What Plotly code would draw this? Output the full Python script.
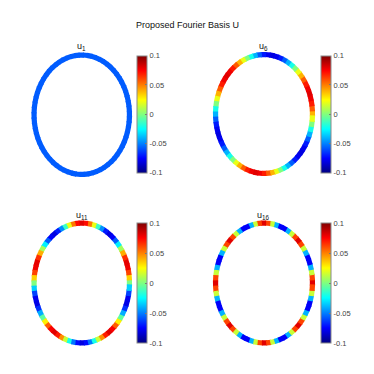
import numpy as np
import plotly.graph_objects as go

# ---- data: vertex values of each basis vector, 72 vertices around the ring
# vertex k sits at angle 5*k degrees (counter-clockwise from the right)
u1 = [-0.057] * 72

u6 = [0.040, 0.057, 0.070, 0.078, 0.081, 0.078, 0.070, 0.057, 0.040, 0.021, 0.000, -0.021,
      -0.040, -0.057, -0.070, -0.078, -0.081, -0.078, -0.070, -0.057, -0.040, -0.021, 0.000, 0.021,
      0.040, 0.057, 0.070, 0.078, 0.081, 0.078, 0.070, 0.057, 0.040, 0.021, 0.000, -0.021,
      -0.040, -0.057, -0.070, -0.078, -0.081, -0.078, -0.070, -0.057, -0.040, -0.021, 0.000, 0.021,
      0.040, 0.057, 0.070, 0.078, 0.081, 0.078, 0.070, 0.057, 0.040, 0.021, 0.000, -0.021,
      -0.040, -0.057, -0.070, -0.078, -0.081, -0.078, -0.070, -0.057, -0.040, -0.021, 0.000, 0.021]

u11 = [0.000, 0.034, 0.062, 0.078, 0.080, 0.066, 0.041, 0.007, -0.028, -0.057, -0.076, -0.081,
       -0.070, -0.047, -0.014, 0.021, 0.052, 0.073, 0.081, 0.073, 0.052, 0.021, -0.014, -0.047,
       -0.070, -0.081, -0.076, -0.057, -0.028, 0.007, 0.041, 0.066, 0.080, 0.078, 0.062, 0.034,
       0.000, -0.034, -0.062, -0.078, -0.080, -0.066, -0.041, -0.007, 0.028, 0.057, 0.076, 0.081,
       0.070, 0.047, 0.014, -0.021, -0.052, -0.073, -0.081, -0.073, -0.052, -0.021, 0.014, 0.047,
       0.070, 0.081, 0.076, 0.057, 0.028, -0.007, -0.041, -0.066, -0.080, -0.078, -0.062, -0.034]

u16 = [0.081, 0.062, 0.014, -0.040, -0.076, -0.076, -0.040, 0.014, 0.062,
       0.081, 0.062, 0.014, -0.040, -0.076, -0.076, -0.040, 0.014, 0.062,
       0.081, 0.062, 0.014, -0.040, -0.076, -0.076, -0.040, 0.014, 0.062,
       0.081, 0.062, 0.014, -0.040, -0.076, -0.076, -0.040, 0.014, 0.062,
       0.081, 0.062, 0.014, -0.040, -0.076, -0.076, -0.040, 0.014, 0.062,
       0.081, 0.062, 0.014, -0.040, -0.076, -0.076, -0.040, 0.014, 0.062,
       0.081, 0.062, 0.014, -0.040, -0.076, -0.076, -0.040, 0.014, 0.062,
       0.081, 0.062, 0.014, -0.040, -0.076, -0.076, -0.040, 0.014, 0.062]

series = [u1, u6, u11, u16]
names = ["1", "6", "11", "16"]
cbar_ticks = [-0.1, -0.05, 0, 0.05, 0.1]
cbar_text = ["-0.1", "-0.05", "0", "0.05", "0.1"]
title_text = "Proposed Fourier Basis U"
CMIN, CMAX = -0.1, 0.1

# ---- layout (pixel boxes in a 374x374 page): ring centre-line extents
W = H = 374.0
ring_x = [(34, 129.5), (215.5, 312.5), (34, 129.5), (215.5, 312.5)]
ring_y = [(55, 174.5), (54.5, 173.5), (223, 343), (223, 343)]
cb_x = [137, 320.7, 137, 320.7]
cb_y = [(55.7, 173), (55.7, 173), (223, 342.7), (223, 342.7)]
lab_pos = [(81, 46), (263, 46), (82, 215), (263, 215)]
PAD = 1.15  # axis range half-width (ring radius is 1) so the stroke is not clipped

jet_stops = [0.0, 0.125, 0.375, 0.625, 0.875, 1.0]
jet_rgb = [(0, 0, 128), (0, 0, 255), (0, 255, 255), (255, 255, 0), (255, 0, 0), (128, 0, 0)]
jet = [[s, "rgb(%d,%d,%d)" % c] for s, c in zip(jet_stops, jet_rgb)]


def jet_color(v):
    f = min(max((v - CMIN) / (CMAX - CMIN), 0.0), 1.0)
    r = [np.interp(f, jet_stops, [c[j] for c in jet_rgb]) for j in range(3)]
    return "rgb(%d,%d,%d)" % tuple(int(round(x)) for x in r)


def expand(a, b):
    c, h = (a + b) / 2, (b - a) / 2 * PAD
    return c - h, c + h


fig = go.Figure()
layout = {}
font_family = "Liberation Sans, Arial, sans-serif"
for i, vals in enumerate(series):
    sfx = "" if i == 0 else str(i + 1)
    n = len(vals)
    step = 2 * np.pi / n
    for k, v in enumerate(vals):
        t = np.array([k - 0.5, k - 0.25, k, k + 0.25, k + 0.5, k + 0.75]) * step
        fig.add_trace(go.Scatter(
            x=np.cos(t), y=np.sin(t), mode="lines",
            line=dict(color=jet_color(v), width=5.2),
            xaxis="x" + sfx, yaxis="y" + sfx, hoverinfo="skip",
            showlegend=False))
    # invisible carrier for the colorbar
    fig.add_trace(go.Scatter(
        x=[None], y=[None], mode="markers",
        marker=dict(color=[CMIN], coloraxis="coloraxis" + sfx, size=0.1),
        xaxis="x" + sfx, yaxis="y" + sfx, hoverinfo="skip", showlegend=False))
    x0, x1 = expand(*ring_x[i])
    y0, y1 = expand(*ring_y[i])
    layout["xaxis" + sfx] = dict(domain=[x0 / W, x1 / W], range=[-PAD, PAD], visible=False,
                                 anchor="y" + sfx, fixedrange=True)
    layout["yaxis" + sfx] = dict(domain=[1 - y1 / H, 1 - y0 / H], range=[-PAD, PAD],
                                 visible=False, anchor="x" + sfx, fixedrange=True)
    cy0, cy1 = cb_y[i]
    layout["coloraxis" + sfx] = dict(
        colorscale=jet, cmin=CMIN, cmax=CMAX,
        colorbar=dict(x=cb_x[i] / W, xanchor="left", y=1 - cy0 / H, yanchor="top",
                      len=cy1 - cy0, lenmode="pixels", thickness=9.5, thicknessmode="pixels",
                      xpad=0, ypad=0, outlinewidth=1, outlinecolor="#8a8a8a",
                      tickvals=cbar_ticks, ticktext=cbar_text, ticks="inside", ticklen=2,
                      tickcolor="#777", tickwidth=0.5,
                      tickfont=dict(size=7.5, color="#444", family=font_family)))

annotations = [dict(text=title_text, x=187 / W, y=1 - 25 / H, xref="paper", yref="paper",
                    showarrow=False, xanchor="center", yanchor="middle",
                    font=dict(size=9, color="#111", family=font_family))]
for i, nm in enumerate(names):
    lx, ly = lab_pos[i]
    annotations.append(dict(text="u<sub>" + nm + "</sub>", x=lx / W, y=1 - ly / H,
                            xref="paper", yref="paper", showarrow=False,
                            xanchor="center", yanchor="middle",
                            font=dict(size=9, color="#111", family=font_family)))

fig.update_layout(width=374, height=374, margin=dict(l=0, r=0, t=0, b=0),
                  paper_bgcolor="white", plot_bgcolor="rgba(0,0,0,0)",
                  annotations=annotations, **layout)
fig.write_html("out.html", config={"displayModeBar": False},
               post_script="document.body.style.margin='0';document.body.style.padding='0';")
